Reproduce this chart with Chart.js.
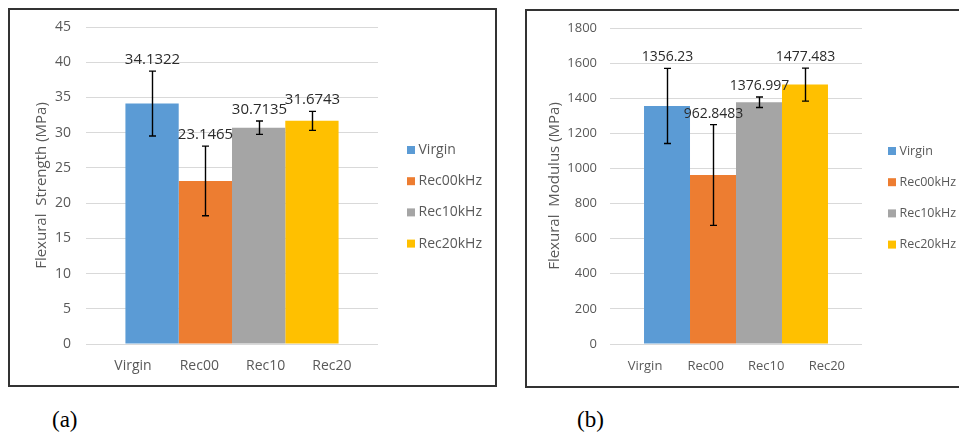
<!DOCTYPE html>
<html>
<head>
<meta charset="utf-8">
<script src="https://cdn.jsdelivr.net/npm/chart.js@4"></script>
<style>
  html, body { margin: 0; padding: 0; background: #fff; width: 959px; height: 432px; overflow: hidden; }
  .frame { position: absolute; border: 2px solid #333; }
  .frame canvas { display: block; }
  .cap { position: absolute; font-family: "Liberation Serif", "Times New Roman", serif; font-size: 23px; color: #000; line-height: 24px; }
</style>
</head>
<body>
<div class="frame" style="left:8px; top:8px; width:485px; height:375px;"><canvas id="chartA" width="485" height="375"></canvas></div>
<div class="frame" style="left:525px; top:9px; width:440px; height:375px;"><canvas id="chartB" width="440" height="375"></canvas></div>
<div class="cap" style="left:52px; top:408px;">(a)</div>
<div class="cap" style="left:577px; top:408px;">(b)</div>

<script>
// Sample groups and legend names
const seriesNames = ['Virgin', 'Rec00kHz', 'Rec10kHz', 'Rec20kHz'];
const groupLabels = ['Virgin', 'Rec00', 'Rec10', 'Rec20'];
const seriesColors = ['#5B9BD5', '#ED7D31', '#A5A5A5', '#FFC000'];

// Flexural strength (MPa): mean and standard deviation
const strengthMean = [34.1322, 23.1465, 30.7135, 31.6743];
const strengthErr = [4.6, 4.95, 0.95, 1.35];
const strengthTicks = [0, 5, 10, 15, 20, 25, 30, 35, 40, 45];

// Flexural modulus (MPa): mean and standard deviation
const modulusMean = [1356.23, 962.8483, 1376.997, 1477.483];
const modulusErr = [214, 287, 30, 94];
const modulusTicks = [0, 200, 400, 600, 800, 1000, 1200, 1400, 1600, 1800];

Chart.defaults.font.family = '"Open Sans", sans-serif';
Chart.defaults.color = '#595959';

// Error bars with the mean printed above each one
const errorBars = {
  id: 'errorBars',
  afterDatasetsDraw(chart, args, opts) {
    const { ctx } = chart;
    const y = chart.scales.y;
    chart.data.datasets.forEach((ds, i) => {
      const bar = chart.getDatasetMeta(i).data[0];
      const v = ds.data[0];
      const e = opts.errors[i];
      const x = Math.round(bar.x) + 0.5;
      const yTop = y.getPixelForValue(v + e);
      const yBot = y.getPixelForValue(v - e);
      ctx.save();
      ctx.strokeStyle = '#000';
      ctx.lineWidth = 1.4;
      ctx.beginPath();
      ctx.moveTo(x, yTop); ctx.lineTo(x, yBot);
      ctx.moveTo(x - 3.5, yTop); ctx.lineTo(x + 3.5, yTop);
      ctx.moveTo(x - 3.5, yBot); ctx.lineTo(x + 3.5, yBot);
      ctx.stroke();
      ctx.font = opts.font;
      ctx.fillStyle = '#2b2b2b';
      ctx.textAlign = 'center';
      ctx.textBaseline = 'bottom';
      ctx.fillText(String(v), x, yTop - 4);
      ctx.restore();
    });
  }
};

// Legend column to the right of the plot
const sideLegend = {
  id: 'sideLegend',
  afterDraw(chart, args, opts) {
    const { ctx, chartArea } = chart;
    const x0 = chartArea.right + opts.gap;
    ctx.save();
    ctx.font = opts.font;
    ctx.textAlign = 'left';
    ctx.textBaseline = 'middle';
    chart.data.datasets.forEach((ds, i) => {
      const yc = opts.top + i * opts.spacing;
      ctx.fillStyle = ds.backgroundColor;
      ctx.fillRect(x0, yc - 4, 8, 8);
      ctx.fillStyle = '#595959';
      ctx.fillText(ds.label, x0 + 11.5, yc);
    });
    ctx.restore();
  }
};

function makeChart(canvasId, means, errs, ticks, cfg) {
  return new Chart(document.getElementById(canvasId), {
    type: 'bar',
    data: {
      labels: [''],
      datasets: seriesNames.map((name, i) => ({
        label: name,
        data: [means[i]],
        backgroundColor: seriesColors[i],
        borderWidth: 0,
        categoryPercentage: 0.73,
        barPercentage: 1.0
      }))
    },
    options: {
      responsive: false,
      animation: false,
      devicePixelRatio: 1,
      layout: { padding: { left: 0, right: cfg.padRight, top: cfg.padTop, bottom: 0 } },
      plugins: {
        legend: { display: false },
        tooltip: { enabled: false },
        errorBars: { errors: errs, font: cfg.labelFont },
        sideLegend: { gap: cfg.legendGap, top: cfg.legendTop, spacing: 31.2, font: cfg.legendFont }
      },
      scales: {
        x: { display: false },
        groups: {
          type: 'linear',
          position: 'bottom',
          offset: false,
          min: cfg.groupMin,
          max: cfg.groupMax,
          afterBuildTicks: (axis) => { axis.ticks = groupLabels.map((_, i) => ({ value: i })); },
          afterFit: (axis) => { axis.height = cfg.xHeight; },
          grid: { display: false, drawTicks: false },
          border: { display: false },
          ticks: {
            padding: 14,
            font: { size: cfg.tickSize },
            color: '#595959',
            callback: (v) => groupLabels[v]
          }
        },
        y: {
          min: ticks[0],
          max: ticks[ticks.length - 1],
          afterBuildTicks: (axis) => { axis.ticks = ticks.map(v => ({ value: v })); },
          afterFit: (axis) => {
            axis.width = cfg.yWidth;
            axis.paddingTop = 0;
            axis.paddingBottom = 0;
          },
          grid: { color: '#d9d9d9', lineWidth: 1, drawTicks: false },
          border: { display: false },
          ticks: { padding: cfg.yTickPad, font: { size: cfg.tickSize }, color: '#595959', callback: (v) => String(v) },
          title: {
            display: true,
            text: cfg.title,
            color: '#595959',
            font: { size: 15 },
            padding: { top: cfg.titlePad, bottom: 0 }
          }
        }
      }
    },
    plugins: [errorBars, sideLegend]
  });
}

makeChart('chartA', strengthMean, strengthErr, strengthTicks, {
  title: 'Flexural  Strength (MPa)',
  padRight: 117, padTop: 17, yWidth: 76, xHeight: 41,
  yTickPad: 15, titlePad: 23, tickSize: 14,
  groupMin: -0.709, groupMax: 3.694,
  legendGap: 29, legendTop: 140,
  labelFont: '15px "Open Sans", sans-serif',
  legendFont: '14px "Open Sans", sans-serif'
});

makeChart('chartB', modulusMean, modulusErr, modulusTicks, {
  title: 'Flexural  Modulus (MPa)',
  padRight: 105, padTop: 17, yWidth: 83, xHeight: 42,
  yTickPad: 13, titlePad: 19, tickSize: 13,
  groupMin: -0.578, groupMax: 3.58,
  legendGap: 26, legendTop: 140,
  labelFont: '14px "Open Sans", sans-serif',
  legendFont: '12.5px "Open Sans", sans-serif'
});
</script>
</body>
</html>
